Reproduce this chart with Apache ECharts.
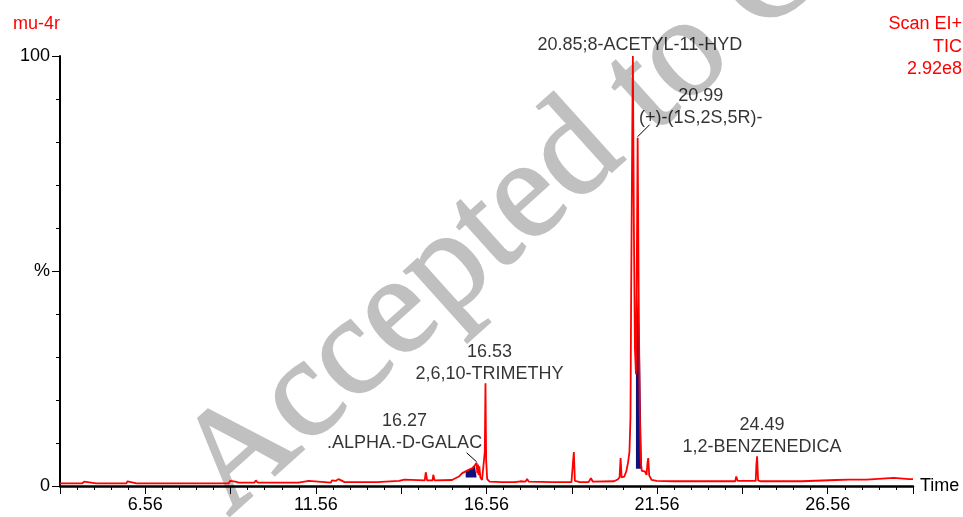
<!DOCTYPE html>
<html><head><meta charset="utf-8">
<script src="https://cdn.jsdelivr.net/npm/echarts@6/dist/echarts.min.js"></script>
<style>html,body{margin:0;padding:0;background:#fff}#c{width:963px;height:517px}</style>
</head><body><div id="c"></div>
<script>
// Total ion chromatogram (retention time in minutes, relative intensity in %)
const retentionTimes = [
  4.06,4.70,4.77,4.82,5.12,5.16,5.20,6.00,6.04,6.08,6.30,9.00,9.05,9.10,9.20,9.25,9.30,9.76,9.80,9.85,
  11.05,11.08,11.35,11.38,12.00,12.03,12.15,12.22,12.30,12.40,13.35,13.40,14.00,14.05,14.15,14.20,
  14.75,14.78,14.82,14.98,15.00,15.04,15.55,15.65,15.75,15.85,15.95,16.05,16.15,16.22,16.27,16.29,
  16.31,16.33,16.35,16.38,16.43,16.48,16.51,16.53,16.55,16.58,16.65,17.00,17.40,17.45,17.55,17.70,
  17.75,17.80,18.50,19.05,19.09,19.12,19.15,19.30,19.55,19.62,19.68,20.30,20.40,20.46,20.49,20.52,
  20.55,20.60,20.66,20.71,20.75,20.78,20.80,20.83,20.85,20.88,20.91,20.94,20.96,20.99,21.02,21.05,
  21.08,21.11,21.15,21.20,21.25,21.28,21.30,21.33,21.40,21.55,22.00,23.20,23.25,23.30,23.85,23.88,
  23.92,24.45,24.47,24.49,24.52,24.60,25.20,25.25,25.30,25.80,25.85,26.80,26.85,27.20,27.70,27.75,
  28.50,28.95,29.06
];
const relIntensity = [
  0.6,0.6,1.0,0.6,0.6,1.0,0.6,0.6,1.1,0.7,0.6,0.6,1.2,0.9,1.0,1.3,0.8,0.8,1.3,0.8,
  0.8,1.2,1.2,0.8,0.8,1.3,1.2,1.6,1.3,0.9,0.9,1.1,1.2,1.6,1.5,1.2,
  1.3,3.2,1.3,1.3,2.6,1.3,1.4,1.8,2.2,3.0,3.4,3.8,4.2,4.8,5.4,3.0,
  5.0,2.5,4.6,2.0,1.4,1.0,8.0,23.9,6.0,1.6,1.0,0.9,0.9,1.3,1.1,1.0,
  1.6,1.0,0.9,0.9,5.0,7.9,1.2,0.9,0.9,1.8,1.0,1.1,1.5,2.0,6.5,2.0,
  1.8,2.2,3.5,5.5,8.0,16,45,80,100,60,32,26,45,81,45,18,
  6.0,3.5,3.3,3.4,2.6,5.5,6.5,2.4,1.4,1.2,1.1,1.1,1.5,1.1,1.1,2.2,
  1.2,1.2,5.0,6.9,1.3,1.1,1.1,1.3,1.1,1.1,1.4,1.4,1.7,1.5,1.5,1.9,
  1.9,1.6,1.6
];
// integrated (shaded) regions
const shadeMainTimes = [20.94,20.97,21.00,21.03,21.06,21.08,21.10,21.12];
const shadeMainValues = [26,40,45,38,30,20,10,4];
const shadeGalacTimes = [15.95,16.05,16.15,16.22,16.27];
const shadeGalacValues = [3.4,3.8,4.2,4.8,5.0];
// peak annotations
const peakTimes = [20.85, 20.99, 16.53, 16.27, 24.49];
const peakHeights = [100, 81, 23.9, 5.4, 6.9];
const peakNames = ['20.85;8-ACETYL-11-HYD', '20.99\n(+)-(1S,2S,5R)-', '16.53\n2,6,10-TRIMETHY', '16.27\n.ALPHA.-D-GALAC', '24.49\n1,2-BENZENEDICA'];
const leaderPeaks = [1, 3];
const xTickValues = [6.56, 11.56, 16.56, 21.56, 26.56];
const yTickLabels = { 0: '0', 50: '%', 100: '100' };

const zip = (a, b) => a.map((v, i) => [v, b[i]]);
const FONT = '"Liberation Sans", Arial, sans-serif';
const labelOffsets = [[7, -11], [63, -31], [4, -20], [-72, -31], [5, -20]];
const leaderVecs = { 1: [0, -1, 12, -13], 3: [-10, -10, 0, -1] };

const chart = echarts.init(document.getElementById('c'), null, { renderer: 'canvas' });
chart.setOption({
  animation: false,
  backgroundColor: '#fff',
  grid: { left: 60, top: 56, width: 853, height: 430 },
  xAxis: {
    type: 'value', min: 4.06, max: 29.06, interval: 2.5,
    name: 'Time', nameLocation: 'end', nameGap: 7,
    nameTextStyle: { color: '#000', fontSize: 18, fontFamily: FONT, verticalAlign: 'middle', padding: [8, 0, 0, 0] },
    axisLine: { lineStyle: { color: '#000', width: 2.5 } },
    axisTick: { length: 8, lineStyle: { color: '#000', width: 1 } },
    minorTick: { show: true, splitNumber: 5, length: 4, lineStyle: { color: '#000', width: 1 } },
    splitLine: { show: false },
    axisLabel: {
      color: '#000', fontSize: 18, fontFamily: FONT, margin: 10,
      formatter: v => xTickValues.some(t => Math.abs(t - v) < 1e-6) ? v.toFixed(2) : ''
    }
  },
  yAxis: {
    type: 'value', min: 0, max: 100, interval: 50,
    axisLine: { show: true, lineStyle: { color: '#000', width: 2 } },
    axisTick: { show: true, length: 8, lineStyle: { color: '#000', width: 1 } },
    minorTick: { show: true, splitNumber: 5, length: 4, lineStyle: { color: '#000', width: 1 } },
    splitLine: { show: false },
    axisLabel: { color: '#000', fontSize: 18, fontFamily: FONT, margin: 10, formatter: v => yTickLabels[v] ?? '' }
  },
  graphic: [
    { type: 'text', z: -10, x: 251, y: 542, rotation: 42 * Math.PI / 180,
      style: { text: 'Accepted to C', font: '142px "Liberation Serif", serif', fill: '#c0c0c0',
        stroke: '#c0c0c0', lineWidth: 2, textAlign: 'left', textVerticalAlign: 'bottom' } },
    { type: 'text', x: 13, y: 24, style: { text: 'mu-4r', fill: '#ff0000', font: '18px ' + FONT, textAlign: 'left', textVerticalAlign: 'middle' } },
    { type: 'text', x: 962, y: 24, style: { text: 'Scan EI+', fill: '#ff0000', font: '18px ' + FONT, textAlign: 'right', textVerticalAlign: 'middle' } },
    { type: 'text', x: 962, y: 47, style: { text: 'TIC', fill: '#ff0000', font: '18px ' + FONT, textAlign: 'right', textVerticalAlign: 'middle' } },
    { type: 'text', x: 962, y: 69, style: { text: '2.92e8', fill: '#ff0000', font: '18px ' + FONT, textAlign: 'right', textVerticalAlign: 'middle' } }
  ],
  series: [
    { type: 'line', data: zip(shadeMainTimes, shadeMainValues), showSymbol: false, z: 2,
      lineStyle: { width: 0 }, areaStyle: { color: '#10107a', opacity: 1, origin: 4 } },
    { type: 'line', data: zip(shadeGalacTimes, shadeGalacValues), showSymbol: false, z: 2,
      lineStyle: { width: 0 }, areaStyle: { color: '#10107a', opacity: 1, origin: 2 } },
    { type: 'line', data: zip(retentionTimes, relIntensity), showSymbol: false, z: 3,
      lineStyle: { color: '#ff0000', width: 1.8 }, silent: true },
    { type: 'scatter', symbolSize: 0, z: 5, silent: true,
      data: peakTimes.map((t, i) => ({
        value: [t, peakHeights[i]], name: peakNames[i],
        label: { offset: labelOffsets[i] }
      })),
      label: { show: true, position: 'inside', formatter: p => p.name, color: '#000', fontSize: 18,
        fontFamily: FONT, lineHeight: 22, align: 'center', verticalAlign: 'middle' } },
    { type: 'custom', z: 5, silent: true,
      data: leaderPeaks.map(i => [peakTimes[i], peakHeights[i], i]),
      renderItem: (params, api) => {
        const p = api.coord([api.value(0), api.value(1)]);
        const v = leaderVecs[api.value(2)];
        return { type: 'line', shape: { x1: p[0] + v[0], y1: p[1] + v[1], x2: p[0] + v[2], y2: p[1] + v[3] },
          style: { stroke: '#000', lineWidth: 1 } };
      } }
  ]
});
</script></body></html>
